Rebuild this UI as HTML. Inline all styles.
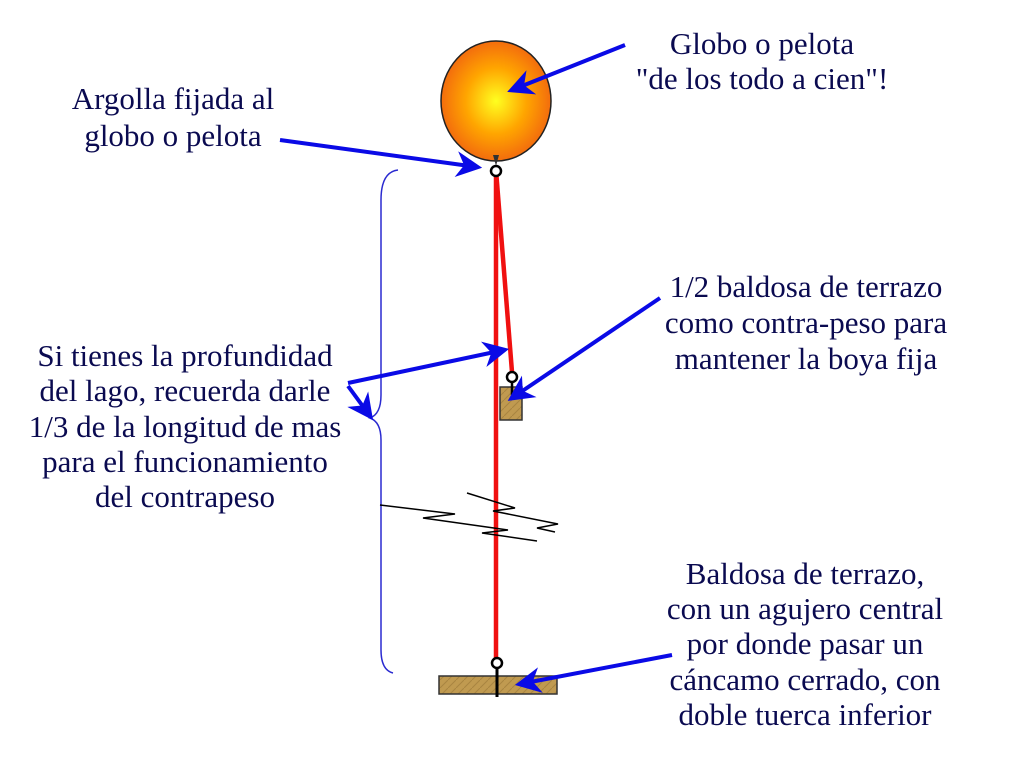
<!DOCTYPE html>
<html><head><meta charset="utf-8"><style>
html,body{margin:0;padding:0;background:#fff}
svg{display:block}
text{font-family:"Liberation Serif","Times New Roman","DejaVu Serif",serif;font-size:31px;fill:#0a0a50;text-anchor:middle}
</style></head><body>
<svg width="1024" height="768" viewBox="0 0 1024 768" xmlns="http://www.w3.org/2000/svg">
<defs>
<radialGradient id="g" cx="0.5" cy="0.5" r="0.55">
<stop offset="0" stop-color="#ffff20"/><stop offset="0.5" stop-color="#ffa500"/><stop offset="1" stop-color="#f06010"/>
</radialGradient>
<pattern id="w" width="8" height="8" patternUnits="userSpaceOnUse">
<rect width="8" height="8" fill="#c09a50"/><path d="M0 8L8 0" stroke="#a88440" stroke-width="1"/>
</pattern>
<marker id="a" viewBox="0 0 10 10" refX="8" refY="5" markerWidth="6.5" markerHeight="6.5" orient="auto" markerUnits="strokeWidth"><path d="M0 0L10 5L0 10L3 5z" fill="#0a0ae6"/></marker>
</defs>
<ellipse cx="496" cy="101" rx="55" ry="60" fill="url(#g)" stroke="#222" stroke-width="1.5"/>
<path d="M398 170 Q381 172 381 200 L381 395 Q381 414 370 418 Q381 422 381 440 L381 650 Q381 670 393 673" fill="none" stroke="#2a2ad0" stroke-width="1.5"/>
<line x1="496" y1="170" x2="496" y2="662" stroke="#f01010" stroke-width="4.5"/>
<line x1="496" y1="170" x2="512" y2="372" stroke="#f01010" stroke-width="4.5"/>
<path d="M493 155 L499 155 L496 166z" fill="#333"/>
<circle cx="496" cy="171" r="5" fill="#fff" stroke="#000" stroke-width="2.5"/>
<circle cx="512" cy="377" r="5" fill="#fff" stroke="#000" stroke-width="2.5"/>
<rect x="500" y="387" width="22" height="33" fill="url(#w)" stroke="#333" stroke-width="1.5"/>
<line x1="512" y1="382" x2="512" y2="395" stroke="#000" stroke-width="2.5"/>
<rect x="439" y="676" width="118" height="18" fill="url(#w)" stroke="#333" stroke-width="1.5"/>
<line x1="497" y1="668" x2="497" y2="697" stroke="#000" stroke-width="3"/>
<circle cx="497" cy="663" r="5" fill="#fff" stroke="#000" stroke-width="2.5"/>
<polyline points="380,505 455,514 423,518 508,530 482,533 537,541" fill="none" stroke="#000" stroke-width="1.5"/>
<polyline points="467,493 515,508 493,511 558,524 537,528 555,532" fill="none" stroke="#000" stroke-width="1.5"/>
<g stroke="#0a0ae6" stroke-width="4" fill="none" marker-end="url(#a)">
<line x1="625" y1="45" x2="512" y2="90"/>
<line x1="280" y1="140" x2="477" y2="167"/>
<line x1="348" y1="383" x2="504" y2="350"/>
<line x1="660" y1="298" x2="512" y2="398"/>
<line x1="672" y1="655" x2="520" y2="684"/>
<line x1="348" y1="386" x2="370" y2="416"/>
</g>
<text x="762" y="54">Globo  o pelota</text>
<text x="762" y="89">"de los todo a cien"!</text>
<text x="173" y="109">Argolla fijada al</text>
<text x="173" y="146">globo o pelota</text>
<text x="185" y="366">Si tienes la profundidad</text>
<text x="185" y="401">del lago, recuerda darle</text>
<text x="185" y="437">1/3 de la longitud de mas</text>
<text x="185" y="472">para el funcionamiento</text>
<text x="185" y="507">del contrapeso</text>
<text x="806" y="297">1/2 baldosa de terrazo</text>
<text x="806" y="333">como contra-peso para</text>
<text x="806" y="369">mantener la boya fija</text>
<text x="805" y="584">Baldosa de terrazo,</text>
<text x="805" y="619">con un agujero central</text>
<text x="805" y="654">por donde pasar un</text>
<text x="805" y="690">cáncamo cerrado, con</text>
<text x="805" y="725">doble tuerca inferior</text>
</svg>
</body></html>
